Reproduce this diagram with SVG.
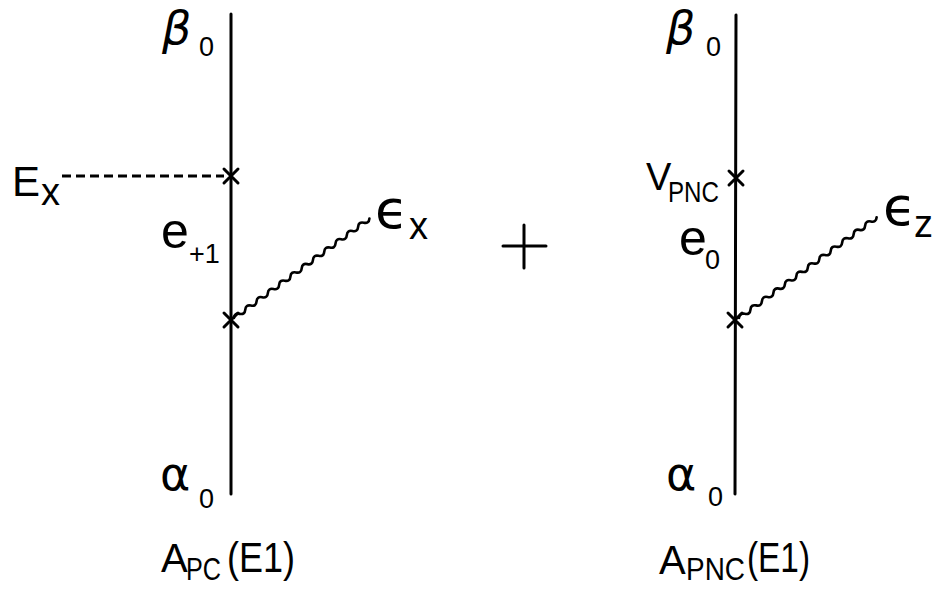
<svg xmlns="http://www.w3.org/2000/svg" width="935" height="593" viewBox="0 0 935 593">
<style>
.ln{stroke:#000;stroke-width:3;fill:none;stroke-linecap:round}
.wv{stroke:#000;stroke-width:2.6;fill:none;stroke-linecap:round}
.ds{stroke:#000;stroke-width:3;fill:none;stroke-dasharray:9 5}
text{font-family:"Liberation Sans","DejaVu Sans",sans-serif;fill:#000}
.g{font-family:"DejaVu Sans",sans-serif}
</style>
<defs>
<path id="wave" d="M0,0 q3.5,-4 7,0 t7,0 t7,0 t7,0 t7,0 t7,0 t7,0 t7,0 t7,0 t7,0 t7,0 t7,0 t7,0 t7,0 t7,0 t7,0 t7,0 t7,0 t7,0 t7,0 t7,0 t7,0 t7,0 t7,0"/>
<path id="cross" d="M-7,-7 L7,7 M-7,7 L7,-7"/>
</defs>
<g id="connectors">
<line class="ln" x1="231" y1="14" x2="231" y2="494"/>
<line class="ln" x1="736" y1="15" x2="735" y2="494"/>
<line class="ds" x1="62" y1="176" x2="224" y2="176"/>
<use href="#wave" class="wv" transform="translate(234,318) rotate(-36.3)"/>
<use href="#wave" class="wv" transform="translate(739,318) rotate(-36.2) scale(1.015)"/>
</g>
<g id="vertex-left-top"><use href="#cross" class="ln" transform="translate(231,176)"/></g>
<g id="vertex-left-bottom"><use href="#cross" class="ln" transform="translate(231,320)"/></g>
<g id="vertex-right-top"><use href="#cross" class="ln" transform="translate(736,178)"/></g>
<g id="vertex-right-bottom"><use href="#cross" class="ln" transform="translate(735,320)"/></g>
<g id="left-labels">
<text class="g" x="162" y="44" font-size="46" font-style="italic">β</text>
<text x="199" y="56" font-size="27">0</text>
<text x="12" y="196" font-size="42">E</text>
<text x="41" y="205" font-size="38">x</text>
<text x="161" y="248" font-size="50">e</text>
<text x="189" y="263" font-size="27">+1</text>
<text class="g" x="375" y="228" font-size="54">ϵ</text>
<text x="409" y="239" font-size="38">x</text>
<text class="g" x="160" y="490" font-size="46">α</text>
<text x="199" y="508" font-size="27">0</text>
<text x="161" y="572" font-size="40">A</text>
<text x="186" y="580" font-size="32" textLength="35" lengthAdjust="spacingAndGlyphs">PC</text>
<text x="227" y="572" font-size="42" textLength="68" lengthAdjust="spacingAndGlyphs">(E1)</text>
</g>
<g id="plus"><path class="ln" d="M503,246 H546 M524,225 V268" stroke-width="4"/></g>
<g id="right-labels">
<text class="g" x="666" y="44" font-size="46" font-style="italic">β</text>
<text x="706" y="56" font-size="27">0</text>
<text x="646" y="190" font-size="38">V</text>
<text x="668" y="202" font-size="30" textLength="51" lengthAdjust="spacingAndGlyphs">PNC</text>
<text x="679" y="255" font-size="50">e</text>
<text x="705" y="269" font-size="27">0</text>
<text class="g" x="883" y="225" font-size="54">ϵ</text>
<text x="914" y="237" font-size="38">z</text>
<text class="g" x="666" y="490" font-size="46">α</text>
<text x="708" y="506" font-size="27">0</text>
<text x="659" y="574" font-size="40">A</text>
<text x="686" y="580" font-size="32" textLength="59" lengthAdjust="spacingAndGlyphs">PNC</text>
<text x="747" y="572" font-size="42" textLength="63" lengthAdjust="spacingAndGlyphs">(E1)</text>
</g>
</svg>
